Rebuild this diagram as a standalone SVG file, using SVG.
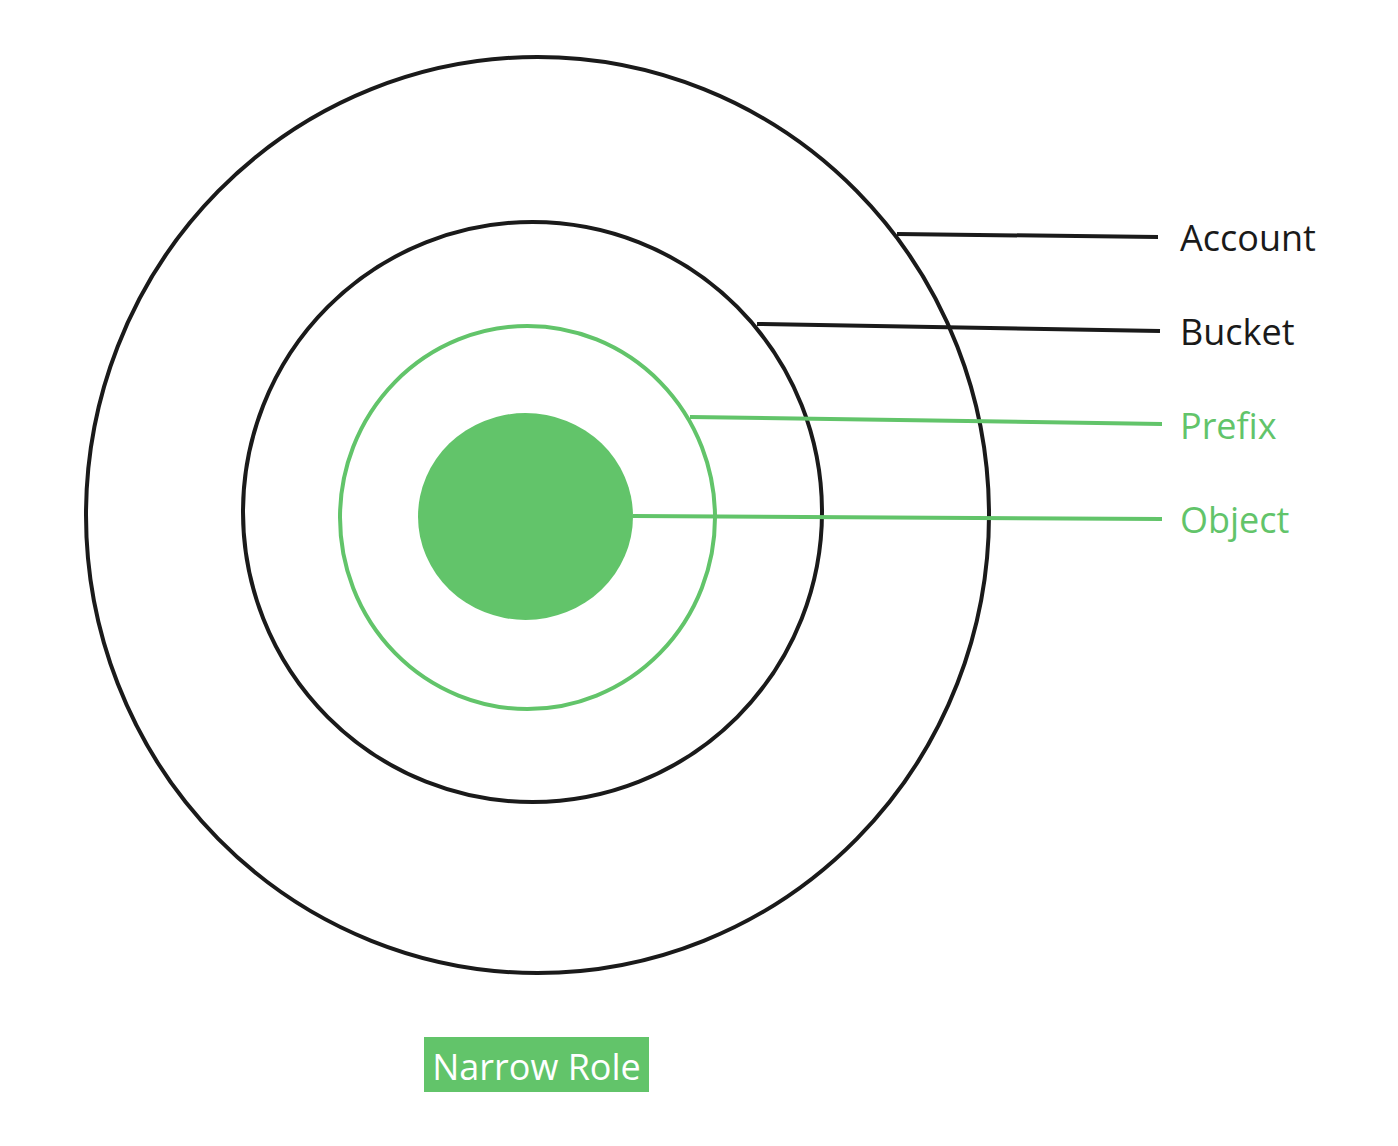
<svg xmlns="http://www.w3.org/2000/svg" width="1398" height="1146" viewBox="0 0 1398 1146">
<style>
.k{fill:none;stroke:#1a1a1a;stroke-width:4}
.g{fill:none;stroke:#62c46a;stroke-width:4}
text{font-family:"Open Sans","Noto Sans",sans-serif;font-size:36px}
</style>
<rect width="1398" height="1146" fill="#fff"/>
<g id="account"><ellipse class="k" cx="537.5" cy="515" rx="451.5" ry="458"/><text x="1180" y="251" fill="#1a1a1a">Account</text></g>
<g id="bucket"><ellipse class="k" cx="532.5" cy="512" rx="289.5" ry="290"/><text x="1180" y="345" fill="#1a1a1a">Bucket</text></g>
<g id="prefix"><ellipse class="g" cx="527.5" cy="517.5" rx="187.5" ry="191.5"/><text x="1180" y="439" fill="#62c46a">Prefix</text></g>
<g id="object"><ellipse cx="525.5" cy="516.5" rx="107.5" ry="103.5" fill="#62c46a"/><text x="1180" y="533" fill="#62c46a">Object</text></g>
<g id="connectors">
<line class="k" x1="897" y1="234" x2="1158" y2="237"/>
<line class="k" x1="757" y1="324" x2="1160" y2="331"/>
<line class="g" x1="690" y1="417" x2="1162" y2="424"/>
<line class="g" x1="633" y1="516" x2="1162" y2="519"/>
</g>
<g id="narrow-role"><rect x="424" y="1037" width="225" height="55" fill="#62c46a"/><text x="536.5" y="1080" fill="#fff" text-anchor="middle">Narrow Role</text></g>
</svg>
